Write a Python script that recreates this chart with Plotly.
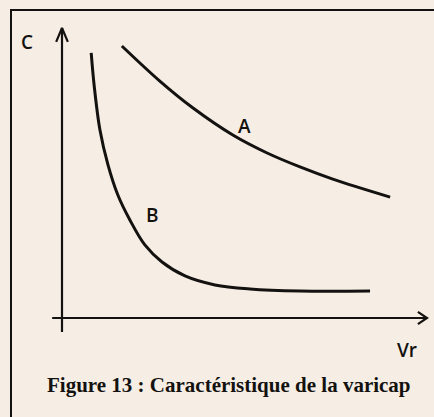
import plotly.graph_objects as go

# Curve A: gently decreasing capacitance vs reverse voltage
a_vr = [1.64, 2.68, 3.59, 4.68, 5.62, 6.52, 7.42, 8.99]
a_c = [9.38, 8.17, 7.24, 6.31, 5.69, 5.21, 4.79, 4.17]

# Curve B: steep drop then flat
b_vr = [0.80, 0.88, 1.04, 1.26, 1.53, 1.86, 2.27, 2.74, 3.37, 4.19, 5.15, 6.52, 8.44]
b_c = [9.14, 8.03, 6.48, 5.28, 4.24, 3.38, 2.52, 1.93, 1.45, 1.14, 1.00, 0.93, 0.93]

W, H = 434, 417
INK = "#141210"
BG = "#f6eee5"

fig = go.Figure()

line_style = dict(color=INK, width=3, shape="spline", smoothing=1.0)
fig.add_trace(go.Scatter(x=a_vr, y=a_c, mode="lines", line=line_style, hoverinfo="skip"))
fig.add_trace(go.Scatter(x=b_vr, y=b_c, mode="lines", line=line_style, hoverinfo="skip"))

# Axes drawn by hand with open chevron arrowheads
axis_style = dict(color=INK, width=2.2)
fig.add_trace(go.Scatter(x=[0, 0], y=[-0.48, 10.0], mode="lines", line=axis_style, hoverinfo="skip"))
fig.add_trace(go.Scatter(x=[-0.16, 0, 0.16], y=[9.52, 10.0, 9.52], mode="lines", line=axis_style, hoverinfo="skip"))
fig.add_trace(go.Scatter(x=[-0.27, 10.0], y=[0, 0], mode="lines", line=axis_style, hoverinfo="skip"))
fig.add_trace(go.Scatter(x=[9.75, 10.0, 9.75], y=[0.21, 0, -0.21], mode="lines", line=axis_style, hoverinfo="skip"))

label_font = dict(family="Open Sans", size=19, color=INK, weight=600)
for txt, x, y in [("C", -0.96, 9.52), ("A", 5.01, 6.62), ("B", 2.47, 3.55), ("Vr", 9.45, -1.10)]:
    fig.add_annotation(x=x, y=y, text=txt, showarrow=False, font=label_font,
                       xanchor="center", yanchor="middle")

fig.add_annotation(x=229 / W, y=1 - 385 / H, xref="paper", yref="paper",
                   text="<b>Figure 13 : Caractéristique de la varicap</b>",
                   showarrow=False, xanchor="center", yanchor="middle",
                   font=dict(family="Liberation Serif", size=21, color=INK))

# Frame that runs off the right and bottom edges
fig.add_shape(type="rect", xref="paper", yref="paper",
              x0=11 / W, x1=1.05, y0=-0.05, y1=1 - 10 / H,
              line=dict(color=INK, width=2))

px_per_x = 36.5
px_per_y = 29.0
fig.update_layout(
    width=W, height=H,
    margin=dict(l=0, r=0, t=0, b=0, pad=0),
    paper_bgcolor=BG, plot_bgcolor=BG,
    showlegend=False,
    xaxis=dict(range=[-62 / px_per_x, (W - 62) / px_per_x], visible=False, fixedrange=True),
    yaxis=dict(range=[(318 - H) / px_per_y, 318 / px_per_y], visible=False, fixedrange=True),
)

fig.write_html("out.html", config={"displayModeBar": False})
